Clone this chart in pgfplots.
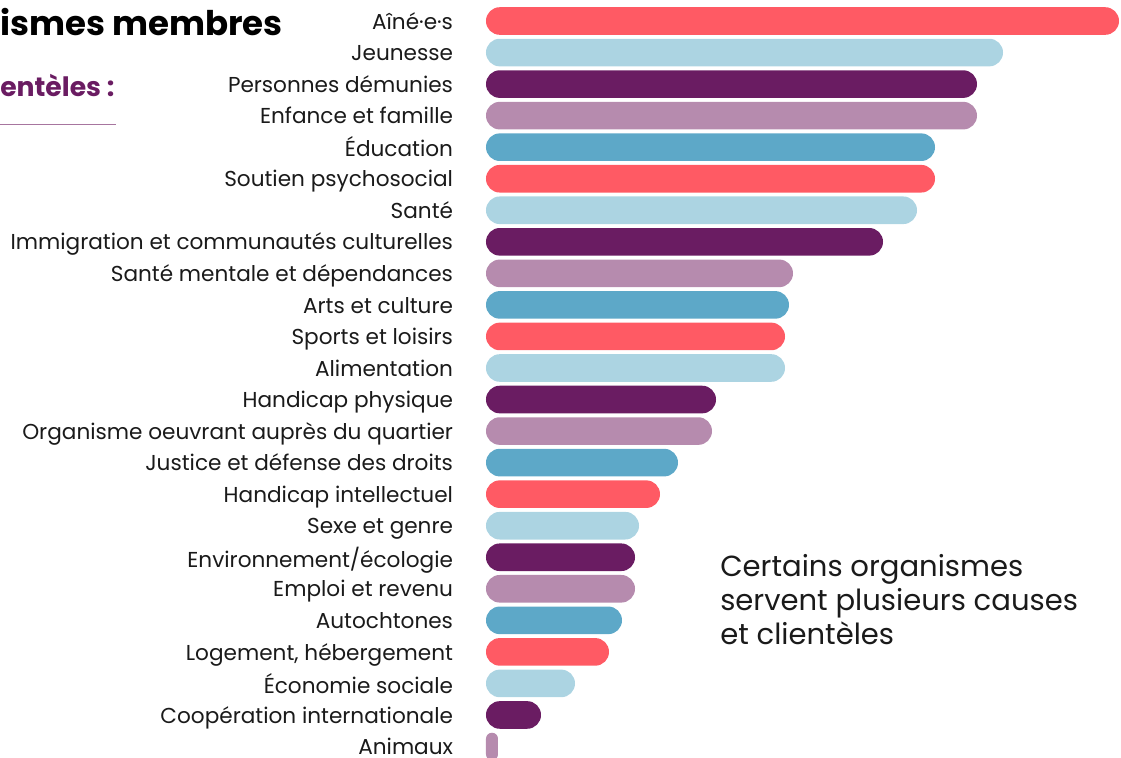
\documentclass[border=0pt]{standalone}
\usepackage{pgfplots}
\pgfplotsset{compat=1.18}
\usepackage{fontspec}
\setmainfont{Poppins}
\definecolor{cred}{HTML}{FF5A64}
\definecolor{clb}{HTML}{ACD4E2}
\definecolor{cpur}{HTML}{6A1C62}
\definecolor{cmau}{HTML}{B68BAE}
\definecolor{cblu}{HTML}{5DA8C8}
\definecolor{ctxt}{HTML}{1A1A1A}
\begin{document}
\begin{tikzpicture}[x=0.75pt,y=0.75pt]
\useasboundingbox (0,0) rectangle (1121,757);
\clip (0,0) rectangle (1121,757);
% title fragments (cropped in the reference)
\node[anchor=base west, inner sep=0pt, font=\fontsize{25.5}{30}\selectfont\bfseries, text=black] at (0,757-36) {ismes membres};
\node[anchor=base west, inner sep=0pt, font=\fontsize{20}{24}\selectfont\bfseries, text=cpur] at (0,757-97) {entèles\hspace{0.22em}:};
\draw[cmau!80!cpur, line width=0.9pt] (0,757-124.5) -- (116,757-124.5);
% annotation
\node[anchor=base west, inner sep=0pt, text=ctxt, font=\fontsize{21.8}{26}\selectfont] at (720,757-577) {Certains organismes};
\node[anchor=base west, inner sep=0pt, text=ctxt, font=\fontsize{21.8}{26}\selectfont] at (720,757-611) {servent plusieurs causes};
\node[anchor=base west, inner sep=0pt, text=ctxt, font=\fontsize{21.8}{26}\selectfont] at (720,757-645) {et clientèles};
\begin{axis}[
  at={(364.5pt,0pt)}, anchor=south west,
  scale only axis, width=476.25pt, height=567.75pt,
  xmin=0, xmax=635, ymin=-0.666, ymax=23.333,
  y dir=reverse,
  hide x axis,
  y axis line style={draw=none},
  ytick style={draw=none},
  ytick={0,...,23},
  yticklabels={Aîné·e·s, Jeunesse, Personnes démunies, Enfance et famille, Éducation, Soutien psychosocial, Santé, Immigration et communautés culturelles, Santé mentale et dépendances, Arts et culture, Sports et loisirs, Alimentation, Handicap physique, Organisme oeuvrant auprès du quartier, Justice et défense des droits, Handicap intellectuel, Sexe et genre, Environnement/écologie, Emploi et revenu, Autochtones, {Logement, hébergement}, Économie sociale, Coopération internationale, Animaux},
  typeset ticklabels with strut,
  yticklabel style={font=\fontsize{16.2}{18}\selectfont, text=ctxt, yshift=-2.5pt},
  yticklabel shift=21.2pt,
  every axis plot/.append style={xbar, bar shift=0pt, bar width=20.7pt, draw=none},
]
\addplot[fill=cred, rounded corners=10.3pt] coordinates {(633,0) (449,5) (299,10) (174,15) (123,20)};
\addplot[fill=clb, rounded corners=10.3pt] coordinates {(517,1) (431,6) (299,11) (153,16) (89,21)};
\addplot[fill=cpur, rounded corners=10.3pt] coordinates {(491,2) (397,7) (230,12) (149,17) (55,22)};
\addplot[fill=cmau, rounded corners=10.3pt] coordinates {(491,3) (307,8) (226,13) (149,18)};
\addplot[fill=cblu, rounded corners=10.3pt] coordinates {(449,4) (303,9) (192,14) (136,19)};
\addplot[fill=cmau, rounded corners=4.5pt] coordinates {(12,23)};
\end{axis}
\end{tikzpicture}
\end{document}
